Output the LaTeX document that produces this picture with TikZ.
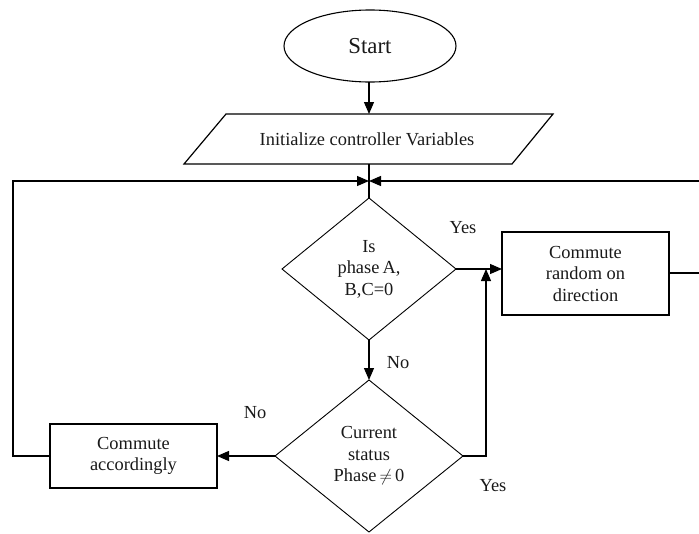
\documentclass[tikz,border=0pt]{standalone}
\usepackage{fontspec}
\setmainfont{Liberation Serif}
\usetikzlibrary{shapes.geometric,arrows.meta}
\begin{document}
\begin{tikzpicture}[x=1pt,y=-1pt,line width=1.2pt,
  txt/.style={font=\fontsize{18.4}{21.5}\selectfont,align=center,text=black!90},
  arr/.style={-{Triangle[length=12pt,width=10pt]}},
  boxst/.style={draw,rectangle,inner sep=0pt,outer sep=0pt,txt},
  dia/.style={draw,diamond,inner sep=0pt,outer sep=0pt,txt,line width=0.9pt},
  lbl/.style={txt}]
\useasboundingbox (0,0) rectangle (699,533);
\clip (0,0) rectangle (699,533);
% nodes
\node[draw,ellipse,minimum width=172pt,minimum height=72pt,inner sep=0pt,outer sep=0pt,
      font=\fontsize{22.8}{26}\selectfont,line width=1.1pt,text=black!90] (start) at (370,46) {Start};
\draw (226,114) -- (553,114) -- (512,164) -- (184,164) -- cycle;
\node[txt] (init) at (367,139) {Initialize controller Variables};
\coordinate (ptop) at (369,114);
\coordinate (pbot) at (369,164);
\coordinate (jn) at (369,181);
\node[dia,minimum width=174pt,minimum height=142pt] (d1) at (369,269)
  {Is\\phase\,A,\\B,C=0};
\node[dia,minimum width=188pt,minimum height=152pt] (d2) at (369,456)
  {Current\\status\\Phase\,$\neq$\,0};
\node[boxst,minimum width=167pt,minimum height=83pt] (rnd) at (585.5,273.5)
  {Commute\\random on\\direction};
\node[boxst,minimum width=167pt,minimum height=64pt] (acc) at (133.5,456)
  {Commute\\accordingly};
\coordinate (lc1) at (13,456);
\coordinate (lc2) at (13,181);
\coordinate (rc1) at (720,273);
\coordinate (rc2) at (720,181);
\coordinate (m) at (486,269);
% labels
\node[lbl] (yes1) at (463,228) {Yes};
\node[lbl] (no1) at (398,363) {No};
\node[lbl] (no2) at (255,413) {No};
\node[lbl] (yes2) at (493,486) {Yes};
% connectors
\draw[arr] (start.south -| ptop) -- (ptop);
\draw (pbot) -- (d1.north);
\draw[arr] (acc.west) -- (lc1) -- (lc2) -- (jn);
\draw[arr] (rnd.east |- rc1) -- (rc1) -- (rc2) -- (jn);
\draw[arr] (d1.east) -- (d1.east -| rnd.west);
\draw[arr] (d1.south) -- (d2.north);
\draw[arr] (d2.east) -| (m);
\draw[arr] (d2.west) -- (acc.east);
\end{tikzpicture}
\end{document}
